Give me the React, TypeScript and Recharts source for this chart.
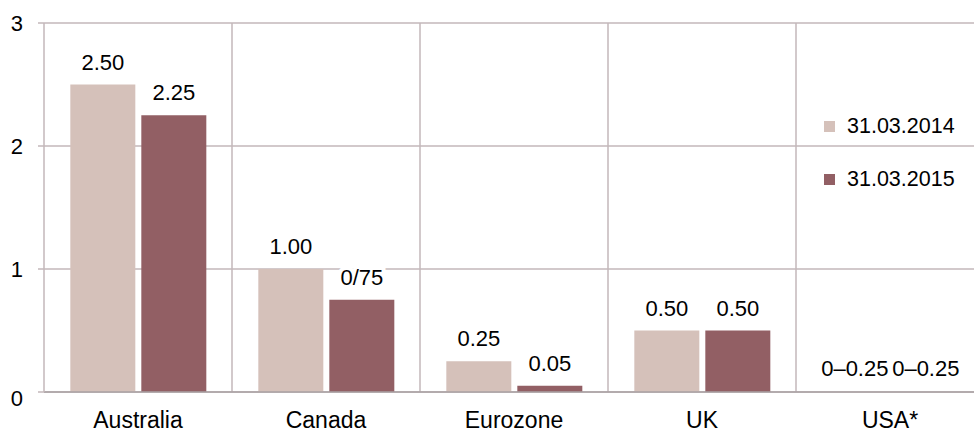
import React from "react";
import { BarChart, Bar, XAxis, YAxis, CartesianGrid, LabelList, Legend, Cell } from "recharts";

const countries = ["Australia", "Canada", "Eurozone", "UK", "USA*"];
const rates2014 = [2.5, 1.0, 0.25, 0.5, 0];
const rates2015 = [2.25, 0.75, 0.05, 0.5, 0];
const labels2014 = ["2.50", "1.00", "0.25", "0.50", "0–0.25"];
const labels2015 = ["2.25", "0/75", "0.05", "0.50", "0–0.25"];
const yTicks = [0, 1, 2, 3];

const series = [
  { key: "r2014", labelKey: "l2014", name: "31.03.2014", color: "#d5c1ba" },
  { key: "r2015", labelKey: "l2015", name: "31.03.2015", color: "#925f64" },
];

const data = countries.map((name, i) => ({
  name,
  r2014: rates2014[i],
  r2015: rates2015[i],
  l2014: labels2014[i],
  l2015: labels2015[i],
}));

const FONT = '"Liberation Sans", Arial, Helvetica, sans-serif';
const GRID = "#c3b7ba";

function YTick(props: any) {
  const { x, y, payload } = props;
  // the zero label sits a little lower in the original
  const shift = payload.value === 0 ? 6 : 0;
  return (
    <text x={x} y={y + shift} dy="0.355em" textAnchor="end" fontSize={22} fill="#000" fontFamily={FONT}>
      {payload.value}
    </text>
  );
}

function ValueLabel(props: any) {
  const { x, y, width, height, value } = props;
  // zero-height bars (USA) still get their label on the baseline
  const top = height < 0 ? y + height : y;
  return (
    <text
      x={x + width / 2}
      y={top - 15}
      textAnchor="middle"
      fontSize={22}
      fill="#000"
      fontFamily={FONT}
      stroke="#fff"
      strokeWidth={8}
      paintOrder="stroke"
    >
      {value}
    </text>
  );
}

function LegendBox() {
  return (
    <div style={{ fontFamily: FONT, fontSize: 21.5, color: "#000" }}>
      {series.map((s) => (
        <div key={s.key} style={{ display: "flex", alignItems: "center", height: 53 }}>
          <span style={{ display: "inline-block", width: 11, height: 11, background: s.color, marginRight: 12 }} />
          <span>{s.name}</span>
        </div>
      ))}
    </div>
  );
}

export default function App() {
  return (
    <div style={{ position: "absolute", left: 0, top: 0, width: 974, height: 432, overflow: "hidden", background: "#fff", fontFamily: FONT }}>
      <BarChart
        width={984}
        height={432}
        data={data}
        margin={{ top: 23, right: 0, left: 0, bottom: 0 }}
        barCategoryGap="14%"
        barGap={6}
      >
        <CartesianGrid
          stroke={GRID}
          strokeWidth={1.5}
          verticalCoordinatesGenerator={({ offset }: any) =>
            [1, 2, 3, 4].map((i) => offset.left + (i * offset.width) / countries.length)
          }
        />
        <XAxis
          dataKey="name"
          interval={0}
          tickLine={false}
          tickSize={0}
          tickMargin={20}
          height={40}
          axisLine={{ stroke: "#a9a1a3", strokeWidth: 1.5 }}
          tick={{ fill: "#000", fontSize: 23, fontFamily: FONT }}
        />
        <YAxis
          domain={[0, 3]}
          ticks={yTicks}
          width={44}
          tickSize={6}
          tickMargin={15}
          tickLine={{ stroke: GRID, strokeWidth: 1.5 }}
          axisLine={{ stroke: GRID, strokeWidth: 1.5 }}
          tick={<YTick />}
        />
        <Legend
          layout="vertical"
          align="center"
          verticalAlign="middle"
          content={() => <LegendBox />}
          wrapperStyle={{ left: 824, top: 100, width: 160 }}
        />
        {series.map((s) => (
          <Bar key={s.key} dataKey={s.key} name={s.name} fill={s.color} minPointSize={1} isAnimationActive={false}>
            {data.map((d, i) => (
              <Cell key={i} fill={s.color} fillOpacity={(d as any)[s.key] === 0 ? 0 : 1} />
            ))}
            <LabelList dataKey={s.labelKey} content={<ValueLabel />} />
          </Bar>
        ))}
      </BarChart>
    </div>
  );
}
